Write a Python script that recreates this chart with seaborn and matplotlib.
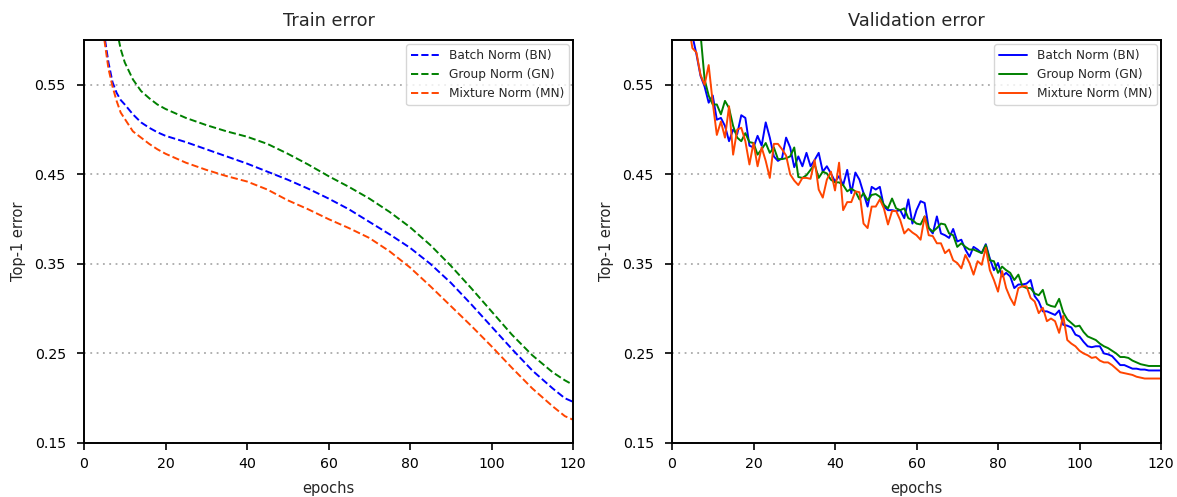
import numpy as np
import pandas as pd
import matplotlib
matplotlib.use("Agg")
import matplotlib.pyplot as plt
import seaborn as sns

# ---------------- data ----------------
series_names = ["Batch Norm (BN)", "Group Norm (GN)", "Mixture Norm (MN)"]
series_colors = ["#0000ff", "#008000", "#ff4500"]

train_epochs = [1, 2, 3, 4, 5, 6, 7, 8, 9, 10, 12, 14, 16, 18, 20, 25, 30, 35, 40, 45,
                50, 55, 60, 65, 70, 75, 80, 85, 90, 95, 100, 105, 110, 115, 118, 120]
train_bn = [0.90, 0.80, 0.72, 0.655, 0.605, 0.575, 0.553, 0.541, 0.533, 0.528, 0.517, 0.508,
            0.502, 0.497, 0.493, 0.486, 0.478, 0.470, 0.462, 0.453, 0.444, 0.434, 0.423, 0.411,
            0.397, 0.383, 0.368, 0.350, 0.329, 0.305, 0.280, 0.255, 0.231, 0.211, 0.200, 0.196]
train_gn = [1.00, 0.90, 0.82, 0.76, 0.71, 0.67, 0.64, 0.612, 0.590, 0.575, 0.556, 0.543,
            0.535, 0.528, 0.523, 0.513, 0.505, 0.498, 0.492, 0.484, 0.473, 0.461, 0.448, 0.436,
            0.423, 0.408, 0.391, 0.371, 0.348, 0.323, 0.297, 0.271, 0.248, 0.229, 0.220, 0.215]
train_mn = [0.88, 0.78, 0.70, 0.64, 0.600, 0.568, 0.548, 0.532, 0.519, 0.512, 0.498, 0.491,
            0.484, 0.478, 0.473, 0.463, 0.455, 0.448, 0.442, 0.433, 0.421, 0.411, 0.400, 0.390,
            0.379, 0.364, 0.346, 0.325, 0.303, 0.281, 0.258, 0.234, 0.211, 0.191, 0.180, 0.176]

val_epochs = list(range(1, 121))
val_bn = [0.75, 0.70, 0.66, 0.63, 0.605, 0.584, 0.560, 0.548, 0.530, 0.538,
          0.511, 0.513, 0.504, 0.487, 0.500, 0.495, 0.516, 0.513, 0.482, 0.480,
          0.493, 0.482, 0.508, 0.491, 0.470, 0.465, 0.468, 0.491, 0.480, 0.458,
          0.470, 0.459, 0.474, 0.459, 0.466, 0.474, 0.453, 0.459, 0.451, 0.442,
          0.448, 0.438, 0.455, 0.429, 0.452, 0.444, 0.429, 0.414, 0.436, 0.433,
          0.436, 0.414, 0.410, 0.410, 0.409, 0.410, 0.401, 0.422, 0.395, 0.410,
          0.420, 0.418, 0.390, 0.384, 0.403, 0.384, 0.382, 0.379, 0.389, 0.375,
          0.377, 0.366, 0.358, 0.369, 0.366, 0.362, 0.372, 0.356, 0.343, 0.351,
          0.336, 0.340, 0.336, 0.323, 0.327, 0.327, 0.328, 0.332, 0.314, 0.308,
          0.297, 0.297, 0.295, 0.293, 0.298, 0.282, 0.281, 0.279, 0.271, 0.269,
          0.263, 0.258, 0.257, 0.258, 0.258, 0.250, 0.249, 0.247, 0.242, 0.237,
          0.237, 0.235, 0.233, 0.233, 0.232, 0.232, 0.231, 0.231, 0.231, 0.231]
val_gn = [0.80, 0.76, 0.72, 0.68, 0.65, 0.625, 0.607, 0.556, 0.538, 0.528,
          0.528, 0.517, 0.532, 0.524, 0.504, 0.491, 0.487, 0.496, 0.486, 0.485,
          0.472, 0.478, 0.485, 0.474, 0.480, 0.467, 0.467, 0.468, 0.470, 0.480,
          0.447, 0.446, 0.449, 0.455, 0.461, 0.446, 0.453, 0.451, 0.444, 0.441,
          0.441, 0.438, 0.431, 0.434, 0.431, 0.422, 0.429, 0.421, 0.427, 0.428,
          0.425, 0.416, 0.412, 0.423, 0.412, 0.410, 0.412, 0.401, 0.399, 0.395,
          0.394, 0.403, 0.390, 0.386, 0.390, 0.395, 0.394, 0.384, 0.382, 0.369,
          0.373, 0.369, 0.366, 0.366, 0.364, 0.362, 0.371, 0.354, 0.353, 0.340,
          0.347, 0.343, 0.340, 0.332, 0.338, 0.325, 0.323, 0.323, 0.317, 0.315,
          0.321, 0.305, 0.303, 0.302, 0.311, 0.296, 0.288, 0.284, 0.280, 0.281,
          0.274, 0.269, 0.267, 0.265, 0.261, 0.258, 0.256, 0.253, 0.250, 0.246,
          0.246, 0.245, 0.242, 0.240, 0.238, 0.237, 0.236, 0.236, 0.236, 0.236]
val_mn = [0.72, 0.68, 0.65, 0.62, 0.591, 0.586, 0.561, 0.550, 0.572, 0.530,
          0.494, 0.509, 0.491, 0.526, 0.472, 0.500, 0.502, 0.487, 0.461, 0.485,
          0.459, 0.480, 0.465, 0.446, 0.484, 0.484, 0.478, 0.471, 0.450, 0.443,
          0.438, 0.446, 0.446, 0.445, 0.466, 0.433, 0.424, 0.444, 0.453, 0.432,
          0.463, 0.410, 0.419, 0.419, 0.431, 0.430, 0.395, 0.390, 0.414, 0.414,
          0.422, 0.412, 0.394, 0.409, 0.409, 0.399, 0.384, 0.389, 0.385, 0.382,
          0.377, 0.403, 0.382, 0.381, 0.373, 0.373, 0.362, 0.366, 0.354, 0.351,
          0.345, 0.360, 0.351, 0.338, 0.353, 0.349, 0.368, 0.343, 0.332, 0.319,
          0.342, 0.323, 0.312, 0.304, 0.323, 0.325, 0.325, 0.312, 0.308, 0.295,
          0.301, 0.286, 0.289, 0.286, 0.273, 0.292, 0.265, 0.261, 0.258, 0.253,
          0.250, 0.248, 0.245, 0.246, 0.242, 0.240, 0.240, 0.237, 0.233, 0.229,
          0.228, 0.227, 0.226, 0.224, 0.223, 0.222, 0.222, 0.222, 0.222, 0.222]

x_ticks = [0, 20, 40, 60, 80, 100, 120]
y_ticks = [0.15, 0.25, 0.35, 0.45, 0.55]
panel_titles = ["Train error", "Validation error"]
x_label = "epochs"
y_label = "Top-1 error"

# ---------------- plot ----------------
sns.set_style("ticks")
plt.rcParams["font.family"] = ["DejaVu Sans"]

fig = plt.figure(figsize=(11.77, 4.97), dpi=100)
ax_train = fig.add_axes([84 / 1177, 54 / 497, 489 / 1177, 403 / 497])
ax_val = fig.add_axes([672 / 1177, 54 / 497, 489 / 1177, 403 / 497])

train_vals = [train_bn, train_gn, train_mn]
val_vals = [val_bn, val_gn, val_mn]

for name, col, vals in zip(series_names, series_colors, train_vals):
    sns.lineplot(x=train_epochs, y=vals, ax=ax_train, color=col, label=name,
                 linestyle="--", linewidth=1.4)
for name, col, vals in zip(series_names, series_colors, val_vals):
    sns.lineplot(x=val_epochs, y=vals, ax=ax_val, color=col, label=name,
                 linestyle="-", linewidth=1.4)

for ax, title in zip([ax_train, ax_val], panel_titles):
    ax.set_xlim(0, 120)
    ax.set_ylim(0.15, 0.60)
    ax.set_xticks(x_ticks)
    ax.set_yticks(y_ticks)
    ax.set_yticklabels([f"{v:.2f}" for v in y_ticks])
    ax.set_title(title, fontsize=12.8, pad=10)
    ax.set_xlabel(x_label, fontsize=10.5, labelpad=7)
    ax.set_ylabel(y_label, fontsize=10.5, labelpad=6)
    ax.tick_params(axis="both", labelsize=10.2, direction="out", length=5, width=1.2,
                   color="black", labelcolor="black")
    ax.tick_params(axis="x", pad=5)
    ax.tick_params(axis="y", pad=8)
    ax.yaxis.grid(True, linestyle=(0, (1, 2.5)), color="#aaaaaa", linewidth=1.3)
    ax.xaxis.grid(False)
    for sp in ax.spines.values():
        sp.set_visible(True)
        sp.set_color("black")
        sp.set_linewidth(1.4)
    leg = ax.legend(loc="upper right", fontsize=8.7, frameon=True, fancybox=True,
                    framealpha=0.8, edgecolor="#cccccc", borderpad=0.4,
                    handlelength=2.3, handletextpad=0.8, labelspacing=0.5,
                    borderaxespad=0.35)

fig.savefig("out.png", dpi=100)
